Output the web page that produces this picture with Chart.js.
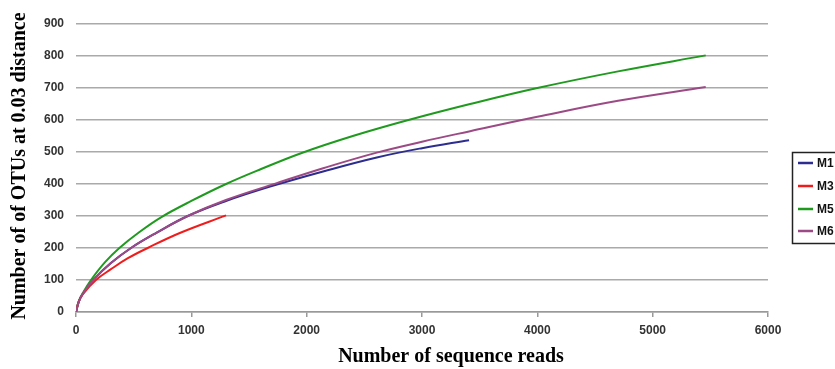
<!DOCTYPE html>
<html>
<head>
<meta charset="utf-8">
<script src="https://cdn.jsdelivr.net/npm/chart.js@4.4.1/dist/chart.umd.min.js"></script>
<style>
html,body{margin:0;padding:0;background:#fff;overflow:hidden;}
#wrap{width:835px;height:369px;position:relative;}
</style>
</head>
<body>
<div id="wrap"><canvas id="c"></canvas></div>
<script>
// Series (x = sequence reads, y = number of OTUs)
const seriesNames = ["M1", "M3", "M5", "M6"];
const m1X = [0, 25, 60, 150, 300, 477, 700, 969, 1300, 1683, 2150, 2608, 3000, 3408];
const m1Y = [0, 33, 58, 100, 152, 200, 248, 300, 347, 392, 440, 483, 512, 537];
const m3X = [0, 25, 60, 173, 300, 450, 621, 900, 1301];
const m3Y = [0, 33, 56, 100, 133, 168, 200, 247, 302];
const m5X = [0, 25, 60, 130, 250, 376, 550, 737, 1000, 1301, 1600, 1957, 2400, 2882, 3417, 4000, 4700, 5460];
const m5Y = [0, 35, 60, 100, 155, 200, 250, 296, 347, 400, 446, 497, 550, 600, 650, 700, 752, 802];
const m6X = [0, 25, 60, 150, 300, 477, 700, 969, 1300, 1735, 2150, 2608, 3000, 3417, 4000, 4700, 5460];
const m6Y = [0, 33, 58, 100, 152, 200, 248, 300, 350, 402, 450, 498, 532, 565, 610, 660, 703];
const seriesColors = ["#2d2d8f", "#f01c1c", "#1f9a1f", "#9c4a86"];
const xTicks = [0, 1000, 2000, 3000, 4000, 5000, 6000];
const yTicks = [0, 100, 200, 300, 400, 500, 600, 700, 800, 900];
const xTitle = "Number of sequence reads";
const yTitle = "Number of of OTUs at 0.03 distance";

function pts(xs, ys){ return xs.map((x,i)=>({x:x, y:ys[i]})); }
const allX = [m1X, m3X, m5X, m6X];
const allY = [m1Y, m3Y, m5Y, m6Y];

const datasets = seriesNames.map((n,i)=>({
  label:n,
  data:pts(allX[i], allY[i]),
  borderColor:seriesColors[i],
  backgroundColor:seriesColors[i],
  borderWidth:2,
  pointRadius:0,
  fill:false,
  tension:0.4,
  order: [3,1,2,0][i]
}));

const extras = {
  id:'extras',
  afterDraw(chart){
    const ctx = chart.ctx;
    const a = chart.chartArea;
    ctx.save();
    ctx.fillStyle = '#000';
    ctx.font = 'bold 20px "Liberation Serif", "Times New Roman", serif';
    ctx.textAlign = 'center';
    ctx.textBaseline = 'middle';
    ctx.fillText(xTitle, 451, 357);
    ctx.translate(20, (a.top + a.bottom)/2 - 2);
    ctx.rotate(-Math.PI/2);
    ctx.fillText(yTitle, 0, 0);
    ctx.restore();

    // legend box
    ctx.save();
    ctx.strokeStyle = '#222';
    ctx.lineWidth = 1.5;
    ctx.strokeRect(792.5, 152.5, 60, 91);
    ctx.font = 'bold 12px "Liberation Sans", Arial, sans-serif';
    ctx.textBaseline = 'middle';
    ctx.textAlign = 'left';
    const ys = [163, 186, 209, 231];
    seriesNames.forEach((n,i)=>{
      ctx.strokeStyle = seriesColors[i];
      ctx.lineWidth = 2.5;
      ctx.beginPath();
      ctx.moveTo(798, ys[i]);
      ctx.lineTo(813, ys[i]);
      ctx.stroke();
      ctx.fillStyle = '#111';
      ctx.fillText(n, 817, ys[i]+0.5);
    });
    ctx.restore();
  }
};

const tickFont = {family:'"Liberation Sans", Arial, sans-serif', size:12, weight:'bold'};

new Chart(document.getElementById('c'), {
  type:'line',
  data:{datasets:datasets},
  options:{
    responsive:true,
    maintainAspectRatio:false,
    animation:false,
    layout:{padding:{top:24, right:67, left:0, bottom:0}},
    plugins:{legend:{display:false}, tooltip:{enabled:false}},
    scales:{
      x:{
        type:'linear',
        min:0, max:6000,
        afterBuildTicks(s){ s.ticks = xTicks.map(v=>({value:v})); },
        afterFit(s){ s.height = 57; },
        grid:{drawOnChartArea:false, drawTicks:true, tickLength:5, color:'#999', lineWidth:1.5},
        border:{display:true, color:'#999', width:1.5},
        ticks:{color:'#333', padding:6, font:tickFont, maxRotation:0, callback:v=>String(v)}
      },
      y:{
        type:'linear',
        min:0, max:900,
        afterBuildTicks(s){ s.ticks = yTicks.map(v=>({value:v})); },
        afterFit(s){ s.width = 76; },
        grid:{color:'#aaa', lineWidth:1.5, drawTicks:false},
        border:{display:false},
        ticks:{color:'#333', padding:12, font:tickFont, callback:v=>String(v)}
      }
    }
  },
  plugins:[extras]
});
</script>
</body>
</html>
